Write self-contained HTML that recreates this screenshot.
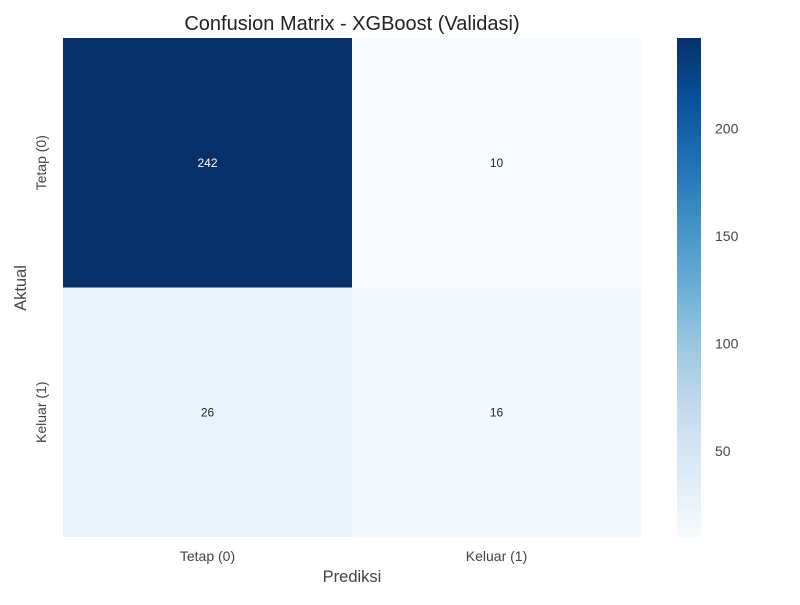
<!DOCTYPE html>
<html><head><meta charset="utf-8"><style>
body{margin:0;background:#fff;}
svg text{font-family:"Liberation Sans",Arial,sans-serif;}
</style></head><body>
<svg id="chart" width="800" height="600" xmlns="http://www.w3.org/2000/svg">
<defs>
<linearGradient id="blues" x1="0" y1="1" x2="0" y2="0">
<stop offset="0" stop-color="#f7fbff"/><stop offset="0.125" stop-color="#deebf7"/><stop offset="0.25" stop-color="#c6dbef"/><stop offset="0.375" stop-color="#9ecae1"/><stop offset="0.5" stop-color="#6baed6"/><stop offset="0.625" stop-color="#4292c6"/><stop offset="0.75" stop-color="#2171b5"/><stop offset="0.875" stop-color="#08519c"/><stop offset="1" stop-color="#08306b"/>
</linearGradient>
</defs>
<text x="352" y="30" font-size="20" text-anchor="middle" fill="#222">Confusion Matrix - XGBoost (Validasi)</text>
<g id="cells"></g>
<g id="xt"></g><g id="yt"></g>
<text x="352" y="582" font-size="16.5" text-anchor="middle" fill="#444">Prediksi</text>
<text transform="translate(26,288) rotate(-90)" font-size="16.5" text-anchor="middle" fill="#444">Aktual</text>
<rect x="677" y="38" width="24" height="499" fill="url(#blues)"/>
<g id="cb"></g>
</svg>
<script>
const xLabels=["Tetap (0)","Keluar (1)"];
const yLabels=["Tetap (0)","Keluar (1)"];
const matrix=[[242,10],[26,16]];
const cbTicks=[50,100,150,200];
const stops=["#f7fbff","#deebf7","#c6dbef","#9ecae1","#6baed6","#4292c6","#2171b5","#08519c","#08306b"];
const NS="http://www.w3.org/2000/svg";
const L=63,R=641,T=38,B=537;
const flat=matrix.flat();const vmin=Math.min(...flat),vmax=Math.max(...flat);
const cw=(R-L)/xLabels.length,ch=(B-T)/yLabels.length;
function hex(h){return[1,3,5].map(i=>parseInt(h.substr(i,2),16));}
function color(v){let t=(v-vmin)/(vmax-vmin);t=Math.max(0,Math.min(1,t))*(stops.length-1);const i=Math.min(Math.floor(t),stops.length-2),f=t-i;const a=hex(stops[i]),b=hex(stops[i+1]);return "rgb("+a.map((x,k)=>Math.round(x+(b[k]-x)*f)).join(",")+")";}
function lum(v){return (v-vmin)/(vmax-vmin)>0.5;}
function el(n,a,p){const e=document.createElementNS(NS,n);for(const k in a)e.setAttribute(k,a[k]);p.appendChild(e);return e;}
const g=document.getElementById("cells");
matrix.forEach((row,i)=>row.forEach((v,j)=>{
 const r=el("rect",{x:L+j*cw,y:T+i*ch,width:cw,height:ch,fill:color(v)},g);
 
 
 const t=el("text",{x:L+(j+.5)*cw,y:T+(i+.5)*ch+4,"font-size":12,"text-anchor":"middle",fill:lum(v)?"#fff":"#262626"},g);
 t.textContent=v;
 
 
}));
const xt=document.getElementById("xt");
xLabels.forEach((s,j)=>{const t=el("text",{x:L+(j+.5)*cw,y:561,"font-size":14,"text-anchor":"middle",fill:"#444"},xt);t.textContent=s;
 
 });
const yt=document.getElementById("yt");
yLabels.forEach((s,i)=>{const y=T+(i+.5)*ch;const t=el("text",{transform:"translate(46,"+y+") rotate(-90)","font-size":14,"text-anchor":"middle",fill:"#444"},yt);t.textContent=s;
 
 });
const cb=document.getElementById("cb");
cbTicks.forEach(v=>{const y=B-(v-vmin)/(vmax-vmin)*(B-T);const t=el("text",{x:715,y:y+5,"font-size":14,fill:"#444"},cb);t.textContent=v;
 
 });
</script>
</body></html>
